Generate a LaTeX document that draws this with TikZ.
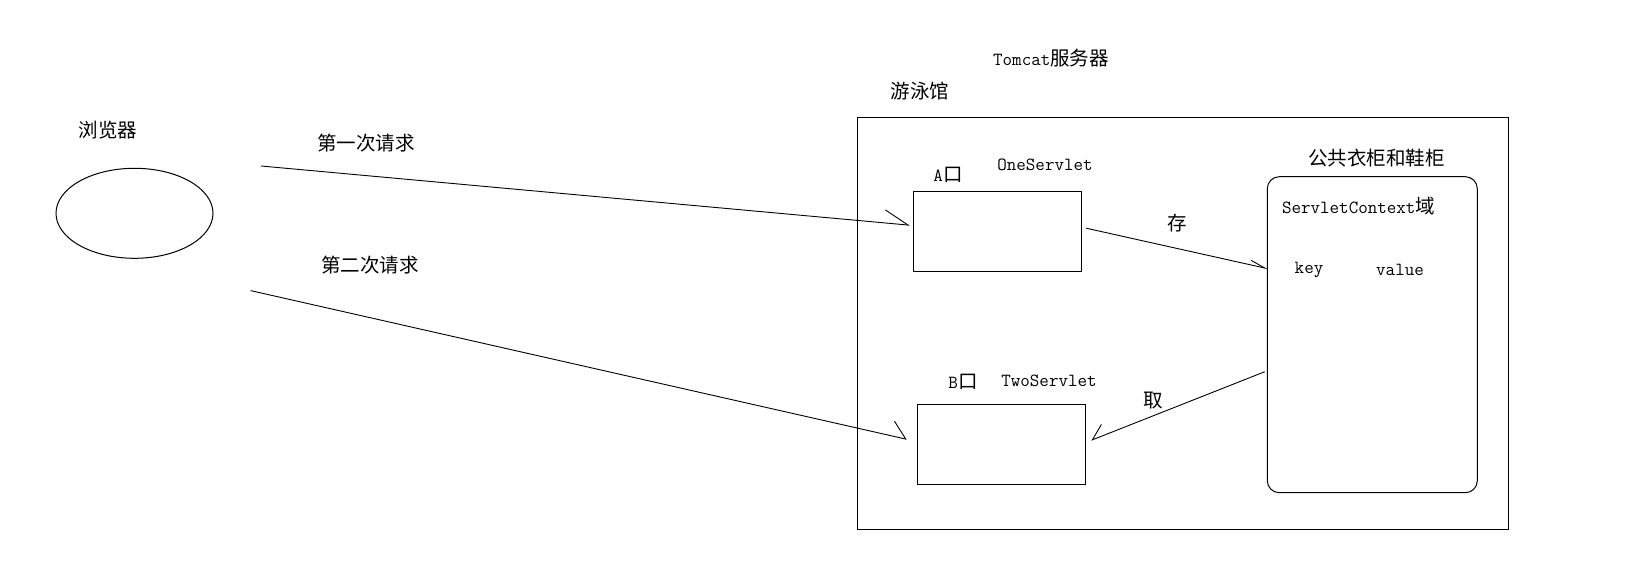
\documentclass[tikz,border=0pt]{standalone}
\usepackage{fontspec}
\usetikzlibrary{arrows.meta,shapes.geometric}
\newfontfamily\cjk{Noto Sans CJK SC}
\newcommand\zh[1]{{\cjk\fontsize{19.5}{22}\selectfont #1}}

\tikzset{
  lbl/.style={anchor=center,inner sep=0pt,font=\fontsize{18.5}{22}\selectfont\ttfamily},
  box/.style={draw,line width=1pt,inner sep=0pt},
  harp/.style={line width=0.9pt,-{Straight Barb[#1]}},
}

\begin{document}
\begin{tikzpicture}[x=1pt,y=-1pt]
      \useasboundingbox (0,0) rectangle (1651,577);
      % browser
      \node[box,ellipse,minimum width=157pt,minimum height=90pt] (browser) at (134.5,213.3) {};
      \node[lbl] (browsertxt) at (108,130) {\zh{浏览器}};
      \node[lbl] (req1txt) at (366,143) {\zh{第一次请求}};
      \node[lbl] (req2txt) at (370,265) {\zh{第二次请求}};
      % server
      \node[lbl] (tomcattxt) at (1051,58) {Tomcat\zh{服务器}};
      \node[lbl] (pooltxt) at (920,91) {\zh{游泳馆}};
      \node[box,minimum width=651pt,minimum height=411.7pt] (tomcat) at (1182.8,323.2) {};
      \node[box,minimum width=168.4pt,minimum height=79.7pt] (boxA) at (997.5,231.2) {};
      \node[lbl] (doorA) at (948,175) {A\zh{口}};
      \node[lbl] (oneservlet) at (1045,165) {OneServlet};
      \node[box,minimum width=168.4pt,minimum height=80pt] (boxB) at (1001.5,444.3) {};
      \node[lbl] (doorB) at (963,382) {B\zh{口}};
      \node[lbl] (twoservlet) at (1049,381) {TwoServlet};
      % shared store
      \node[box,rounded corners=12pt,minimum width=210pt,minimum height=316pt] (store) at (1372.3,334.7) {};
      \node[lbl] (storetxt) at (1376.5,158) {\zh{公共衣柜和鞋柜}};
      \node[lbl] (ctxtxt) at (1358.5,206) {ServletContext\zh{域}};
      \node[lbl] (keytxt) at (1309,270) {key};
      \node[lbl] (valuetxt) at (1400,270) {value};
      \node[lbl] (puttxt) at (1177,223) {\zh{存}};
      \node[lbl] (gettxt) at (1153,401) {\zh{取}};
      % requests
      \coordinate (req1from) at (261,166);
      \coordinate (req2from) at (250.6,290.6);
      \draw[harp={left,length=24pt,width=26pt}] (req1from) -- ([shift={(-3,-6)}]boxA.west);
      \draw[harp={left,length=15pt,width=30pt}] (req2from) -- ([shift={(-10,-5)}]boxB.west);
      \draw[harp={left,length=15pt,width=9pt}] ([shift={(4,-3)}]boxA.east) -- ([shift={(1,-66)}]store.west);
      \draw[harp={right,length=14pt,width=22pt}] ([shift={(-2,37)}]store.west) -- ([shift={(5,-4)}]boxB.east);
\end{tikzpicture}
\end{document}
